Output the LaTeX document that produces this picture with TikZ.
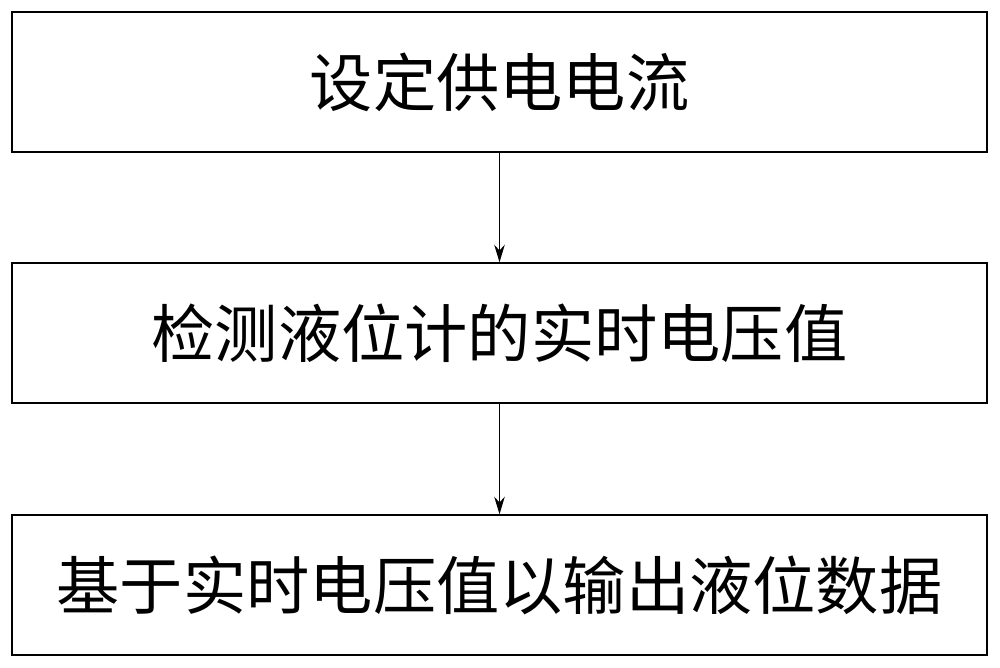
\documentclass[tikz,border=0pt]{standalone}
\usepackage{fontspec}
\newfontfamily\cjk{Noto Sans CJK SC}
\usetikzlibrary{arrows.meta}
\begin{document}
\begin{tikzpicture}[x=0.02cm,y=-0.02cm,
  box/.style={draw,line width=0.8pt,minimum width=19.5cm,minimum height=2.8cm,inner sep=0,font=\cjk\fontsize{36}{42}\selectfont},
  arr/.style={-{Stealth[length=10pt,width=6pt]},line width=0.8pt}]
\useasboundingbox (0,0) rectangle (1000,667);
\node[box] (a) at (499.5,82) {设定供电电流};
\node[box] (b) at (499.5,333) {检测液位计的实时电压值};
\node[box] (c) at (499.5,585) {基于实时电压值以输出液位数据};
\draw[arr] (a) -- (b);
\draw[arr] (b) -- (c);
\end{tikzpicture}
\end{document}
